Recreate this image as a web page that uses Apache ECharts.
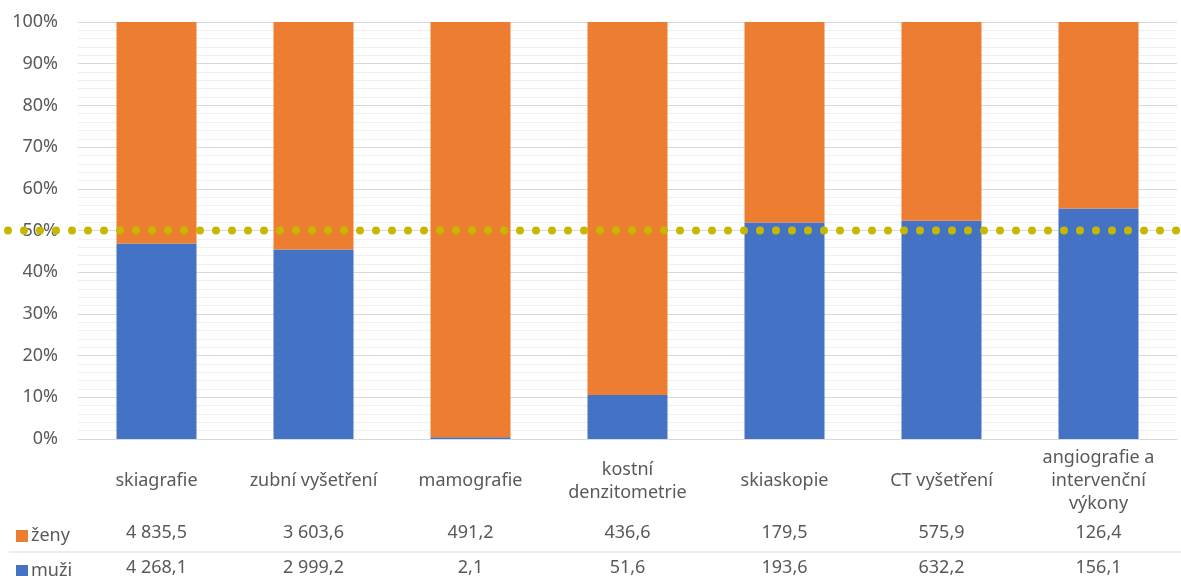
<!DOCTYPE html>
<html>
<head>
    <meta charset="utf-8">
    <script src="https://cdn.jsdelivr.net/npm/echarts@6/dist/echarts.min.js"></script>
</head>
<body style="margin:0;background-color:#ffffff">
    <div id="main" style="width:1181px;height:576px;"></div>
    <script type="text/javascript">

        var categories = ['skiagrafie', 'zubní vyšetření', 'mamografie', 'kostní\ndenzitometrie', 'skiaskopie', 'CT vyšetření', 'angiografie a\nintervenční\nvýkony'];
        var zeny = [4835.5, 3603.6, 491.2, 436.6, 179.5, 575.9, 126.4];
        var muzi = [4268.1, 2999.2, 2.1, 51.6, 193.6, 632.2, 156.1];
        var refLine = 50;

        var textColor = '#595959';
        var font = 'Noto Sans';
        var fs = 18;

        // podíly v procentech (100% skládaný sloupec)
        var muziPct = muzi.map(function (v, i) { return v / (v + zeny[i]) * 100; });
        var zenyPct = zeny.map(function (v, i) { return v / (v + muzi[i]) * 100; });

        function fmt(v) {
            var parts = v.toFixed(1).split('.');
            return parts[0].replace(/\B(?=(\d{3})+(?!\d))/g, ' ') + ',' + parts[1];
        }

        function legendRow(name, top) {
            return {
                data: [name],
                left: 11,
                top: top,
                itemWidth: 12,
                itemHeight: 12,
                itemGap: 0,
                icon: 'rect',
                selectedMode: false,
                textStyle: { color: textColor, fontSize: fs, fontFamily: font, padding: [0, 0, 0, -2] }
            };
        }

        var myChart = echarts.init(document.getElementById('main'));

        var option = {
            animation: false,
            textStyle: { fontFamily: font },
            legend: [legendRow('ženy', 522), legendRow('muži', 557)],
            grid: [
                { left: 78, right: 4, top: 22, bottom: 137, outerBoundsMode: 'none' },
                { left: 0, right: 0, top: 22, bottom: 137, outerBoundsMode: 'none' }
            ],
            xAxis: [
                {
                    type: 'category', data: categories, gridIndex: 0,
                    axisLine: { lineStyle: { color: '#d9d9d9' } },
                    axisTick: { show: false },
                    axisLabel: { color: textColor, fontSize: fs, margin: 42, verticalAlign: 'middle', lineHeight: 23, interval: 0 }
                },
                {
                    type: 'category', data: categories, gridIndex: 0, position: 'bottom',
                    axisLine: { show: false }, axisTick: { show: false },
                    axisLabel: { color: textColor, fontSize: fs, margin: 94, verticalAlign: 'middle', interval: 0,
                        formatter: function (v, i) { return fmt(zeny[i]); } }
                },
                {
                    type: 'category', data: categories, gridIndex: 0, position: 'bottom',
                    axisLine: { show: false }, axisTick: { show: false },
                    axisLabel: { color: textColor, fontSize: fs, margin: 129, verticalAlign: 'middle', interval: 0,
                        formatter: function (v, i) { return fmt(muzi[i]); } }
                },
                { type: 'value', gridIndex: 1, min: 0, max: 1, show: false }
            ],
            yAxis: [
                {
                    type: 'value', gridIndex: 0, min: 0, max: 100, interval: 10,
                    axisLabel: { color: textColor, fontSize: fs, margin: 20, formatter: '{value}%' },
                    splitLine: { lineStyle: { color: '#d9d9d9' } },
                    minorTick: { show: false, splitNumber: 5 },
                    minorSplitLine: { show: true, lineStyle: { color: '#f0f0f0' } }
                },
                { type: 'value', gridIndex: 1, min: 0, max: 100, show: false }
            ],
            graphic: [
                { type: 'line', shape: { x1: 9, y1: 552, x2: 1181, y2: 552 }, style: { stroke: '#d9d9d9', lineWidth: 1 } }
            ],
            series: [
                {
                    name: 'muži', type: 'bar', stack: 'a', data: muziPct, barWidth: 80,
                    itemStyle: { color: '#4472c4' }, xAxisIndex: 0, yAxisIndex: 0
                },
                {
                    name: 'ženy', type: 'bar', stack: 'a', data: zenyPct, barWidth: 80,
                    itemStyle: { color: '#ed7d31' }, xAxisIndex: 0, yAxisIndex: 0
                },
                {
                    type: 'line', xAxisIndex: 3, yAxisIndex: 1, z: 5, silent: true,
                    symbol: 'none',
                    data: [[0, refLine], [1, refLine]],
                    lineStyle: { color: '#c6b800', width: 8, type: [0, 16], cap: 'round', dashOffset: 8 }
                }
            ]
        };

        myChart.setOption(option);
    </script>
</body>
</html>
